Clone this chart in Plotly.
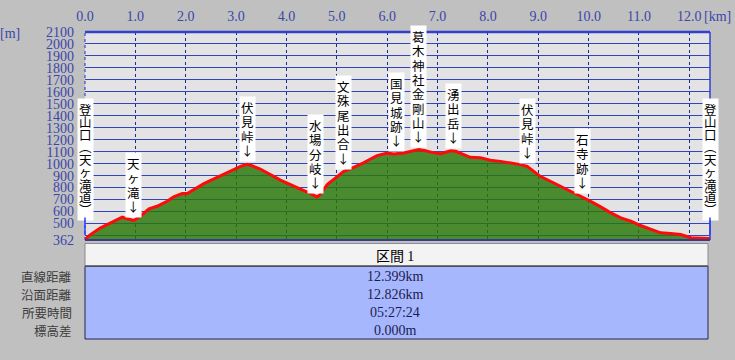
import numpy as np
import plotly.graph_objects as go

# ---------------- data ----------------
dist_km = [0.00, 0.10, 0.31, 0.50, 0.74, 0.84, 0.97, 1.10, 1.27, 1.43, 1.63, 1.76,
           1.93, 2.03, 2.16, 2.36, 2.56, 2.75, 2.95, 3.10, 3.22, 3.30, 3.48, 3.68,
           3.88, 4.08, 4.28, 4.48, 4.61, 4.67, 4.81, 5.01, 5.14, 5.27, 5.40, 5.53,
           5.67, 5.80, 6.00, 6.13, 6.33, 6.46, 6.63, 6.76, 6.89, 7.06, 7.26, 7.36,
           7.49, 7.65, 7.85, 8.05, 8.25, 8.45, 8.65, 8.78, 8.91, 9.04, 9.24, 9.44,
           9.64, 9.84, 10.04, 10.24, 10.44, 10.64, 10.84, 11.03, 11.23, 11.43,
           11.63, 11.83, 12.03, 12.23, 12.41]
elev_m = [368, 405, 464, 506, 553, 539, 525, 561, 622, 644, 686, 722,
          750, 750, 783, 833, 872, 908, 950, 980, 995, 985, 955, 910,
          862, 825, 790, 750, 722, 742, 825, 889, 936, 956, 978, 1006,
          1039, 1067, 1089, 1081, 1089, 1103, 1117, 1108, 1094, 1083, 1108, 1103,
          1081, 1053, 1050, 1028, 1019, 1006, 992, 978, 936, 894, 853, 811,
          769, 733, 686, 639, 589, 547, 519, 483, 450, 422,
          417, 408, 381, 375, 375]

x_ticks = list(range(13))
x_tick_text = [f"{v:.1f}" for v in x_ticks]
y_ticks = [362, 400] + list(range(500, 2101, 100))
y_tick_text = ["362", ""] + [str(v) for v in range(500, 2101, 100)]

waypoint_names = ["登山口(天ヶ滝道)", "天ヶ滝", "伏見峠", "水場分岐", "文殊尾出合",
                  "国見城跡", "葛木神社金剛山", "湧出岳", "伏見峠", "石寺跡",
                  "登山口(天ヶ滝道)"]
waypoint_km = [0.0, 0.96, 3.22, 4.58, 5.13, 6.18, 6.63, 7.31, 8.78, 9.87, 12.41]

stat_labels = ["直線距離", "沿面距離", "所要時間", "標高差"]
stat_values = ["12.399km", "12.826km", "05:27:24", "0.000m"]
section_title = "区間 1"

# ---------------- layout helpers ----------------
W, H = 735, 360
L, R, T, B = 84.6, 710.0, 31.5, 240.5
Y_MIN, Y_MAX = 362, 2100
X_MAX = 12.41


def px_x(px):
    return (px - L) / (R - L)


def px_y(py):
    return (B - py) / (B - T)


CJK = "Noto Sans CJK JP"
SERIF = "Liberation Serif"
TICK_BLUE = "#3a46aa"
GRID_BLUE = "#3444c0"
GLYPH = 12.5

fig = go.Figure()
fig.add_trace(go.Scatter(
    x=dist_km, y=elev_m, mode="lines",
    line=dict(color="#ff0a0a", width=3),
    fill="tozeroy", fillcolor="rgba(42,120,8,0.82)",
    hoverinfo="skip", showlegend=False,
))

annotations = []
shapes = []


def vertical_text(chars):
    return "<br>".join(f"<span style='font-size:{GLYPH}px'>{c}</span>" for c in chars)


# vertical waypoint labels
VMAP = {"(": "︵", ")": "︶"}
for i, (name, km) in enumerate(zip(waypoint_names, waypoint_km)):
    chars = [VMAP.get(c, c) for c in name if c != " "]
    endpoint = (i == 0 or i == len(waypoint_names) - 1)
    if endpoint:
        annotations.append(dict(
            x=km, y=Y_MIN, xref="x", yref="y", text=vertical_text(chars),
            showarrow=False, yshift=19, xanchor="center", yanchor="bottom",
            font=dict(family=CJK, size=9.6, color="#000000"),
            bgcolor="#ffffff", borderpad=1))
        annotations.append(dict(
            x=km, y=Y_MIN, xref="x", yref="y", text="", showarrow=True,
            arrowhead=0, ax=0, ay=-24, standoff=5, arrowwidth=1.5,
            arrowcolor="#2a40ff"))
    else:
        y_anchor = float(np.interp(km, dist_km, elev_m))
        annotations.append(dict(
            x=km, y=y_anchor, xref="x", yref="y", text=vertical_text(chars + ["↓"]),
            showarrow=False, yshift=2, xanchor="center", yanchor="bottom",
            font=dict(family=CJK, size=11, color="#000000"),
            bgcolor="#ffffff", borderpad=1))

# unit labels
annotations.append(dict(x=px_x(10), y=px_y(33), xref="paper", yref="paper",
                        text="[m]", showarrow=False, xanchor="center", yanchor="middle",
                        font=dict(family=SERIF, size=14, color=TICK_BLUE)))
annotations.append(dict(x=px_x(718), y=px_y(16), xref="paper", yref="paper",
                        text="[km]", showarrow=False, xanchor="center", yanchor="middle",
                        font=dict(family=SERIF, size=14, color=TICK_BLUE)))

# plot frame
shapes.append(dict(type="line", xref="paper", yref="paper", x0=0, x1=1, y0=1, y1=1,
                   line=dict(color="#3040d0", width=2.5), layer="above"))
shapes.append(dict(type="line", xref="paper", yref="paper", x0=1, x1=1, y0=0, y1=1,
                   line=dict(color="#3040d0", width=1.5), layer="above"))
shapes.append(dict(type="line", xref="paper", yref="paper", x0=0, x1=1, y0=0, y1=0,
                   line=dict(color="#3a3a8c", width=2), layer="above"))
shapes.append(dict(type="line", xref="paper", yref="paper", x0=0, x1=0, y0=0, y1=1,
                   line=dict(color="#2030c0", width=1, dash="dot"), layer="below"))

# table
tx1 = px_x(708)
shapes.append(dict(type="rect", xref="paper", yref="paper", x0=0, x1=tx1,
                   y0=px_y(267), y1=px_y(244), fillcolor="#f3f3f3",
                   line=dict(color="#8a8a8a", width=1), layer="above"))
shapes.append(dict(type="rect", xref="paper", yref="paper", x0=0, x1=tx1,
                   y0=px_y(340), y1=px_y(267), fillcolor="#a7b7fe",
                   line=dict(color="#25254f", width=1), layer="above"))
shapes.append(dict(type="line", xref="paper", yref="paper", x0=0, x1=tx1,
                   y0=px_y(266.5), y1=px_y(266.5),
                   line=dict(color="#5a5a5a", width=1.5), layer="above"))

title_parts = section_title.split(" ")
annotations.append(dict(
    x=px_x(395), y=px_y(255.5), xref="paper", yref="paper",
    text=f"{title_parts[0]} <span style='font-family:{SERIF}'>{title_parts[1]}</span>",
    showarrow=False, xanchor="center", yanchor="middle",
    font=dict(family=CJK, size=14, color="#000000")))

row_y = [277, 295, 313, 331]
for lab, val, ry in zip(stat_labels, stat_values, row_y):
    annotations.append(dict(x=px_x(73.5), y=px_y(ry), xref="paper", yref="paper",
                            text=lab, showarrow=False, xanchor="right", yanchor="middle",
                            font=dict(family=CJK, size=12.5, color="#3c3c3c")))
    annotations.append(dict(x=px_x(395), y=px_y(ry), xref="paper", yref="paper",
                            text=val, showarrow=False, xanchor="center", yanchor="middle",
                            font=dict(family=SERIF, size=14, color="#1c1c50")))

fig.update_layout(
    width=W, height=H, autosize=False,
    margin=dict(l=L, r=W - R, t=T, b=H - B, pad=0, autoexpand=False),
    paper_bgcolor="#c0c0c0", plot_bgcolor="#e3e3e3",
    showlegend=False,
    xaxis=dict(range=[0, X_MAX], side="top", tickvals=x_ticks, ticktext=x_tick_text,
               showgrid=True, gridcolor="#1c2a90", griddash="dot", gridwidth=1,
               zeroline=False, showline=False, ticks="",
               tickfont=dict(family=SERIF, size=14, color=TICK_BLUE),
               ticklabelstandoff=7, fixedrange=True),
    yaxis=dict(range=[Y_MIN, Y_MAX], tickvals=y_ticks, ticktext=y_tick_text,
               showgrid=True, gridcolor=GRID_BLUE, gridwidth=1,
               zeroline=False, showline=False, ticks="",
               tickfont=dict(family=SERIF, size=14, color=TICK_BLUE),
               ticklabelstandoff=10, fixedrange=True),
    annotations=annotations,
    shapes=shapes,
)

fig.write_html("out.html", config={"displayModeBar": False},
               post_script="document.body.style.margin='0px';")
